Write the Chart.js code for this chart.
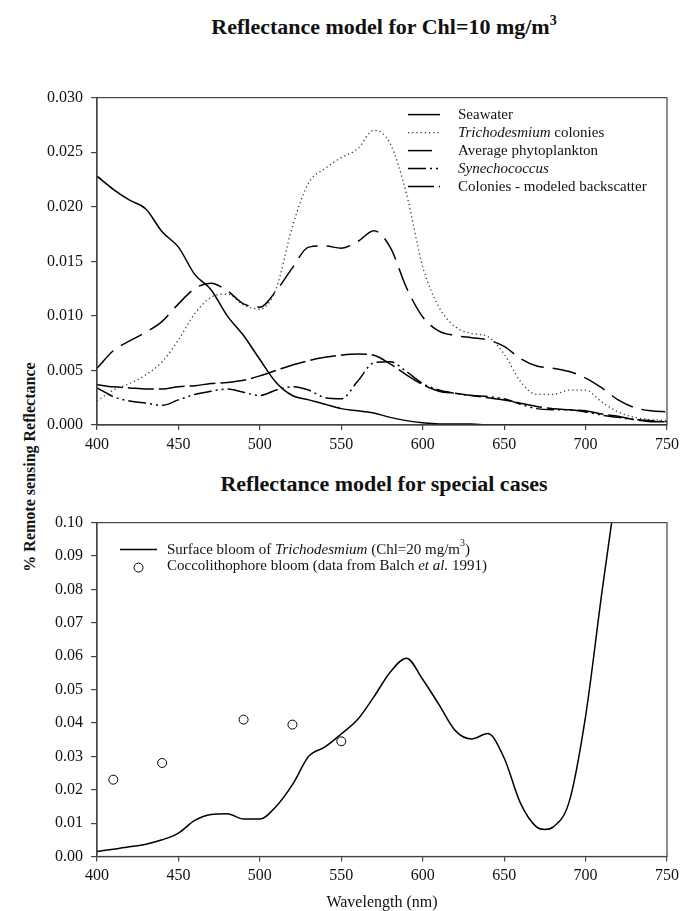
<!DOCTYPE html>
<html>
<head>
<meta charset="utf-8">
<script src="https://cdn.jsdelivr.net/npm/chart.js@4/dist/chart.umd.min.js"></script>
<style>
  html, body { margin: 0; padding: 0; background: #fff; overflow: hidden; }
  body { width: 684px; height: 911px; position: relative; font-family: "Liberation Serif", "DejaVu Serif", serif; color: #111; }
  canvas { position: absolute; left: 0; }
  .title { position: absolute; left: 84px; width: 600px; text-align: center; font-weight: bold; font-size: 22px; line-height: 22px; white-space: nowrap; }
  .title sup { font-size: 14px; vertical-align: 9px; line-height: 0; }
  #ytitle { position: absolute; left: 30px; top: 467px; transform: translate(-50%, -50%) rotate(-90deg); font-weight: bold; font-size: 16px; white-space: nowrap; }
</style>
</head>
<body>
<div class="title" style="top:16px">Reflectance model for Chl=10 mg/m<sup>3</sup></div>
<div class="title" style="top:473px">Reflectance model for special cases</div>
<div id="ytitle">% Remote sensing Reflectance</div>
<canvas id="top" width="684" height="380" style="top:80px"></canvas>
<canvas id="bottom" width="684" height="406" style="top:505px"></canvas>
<script>
// top chart: reflectance for Chl = 10 mg/m3, every 10 nm
const wavelengths = [400, 410, 420, 430, 440, 450, 460, 470, 480, 490, 500, 510, 520, 530, 540, 550, 560, 570,
  580, 590, 600, 610, 620, 630, 640, 650, 660, 670, 680, 690, 700, 710, 720, 730, 740, 750];

const seawater = [0.0228, 0.0216, 0.0206, 0.0198, 0.0177, 0.0163, 0.0138, 0.0124, 0.0100, 0.0082, 0.0060, 0.0039,
  0.0027, 0.0023, 0.0019, 0.0015, 0.0013, 0.0011, 0.0007, 0.0004, 0.0002, 0.0001, 0.0001, 0.0001, 0.0000, 0.0000,
  0.0000, 0.0000, 0.0000, 0.0000, 0.0000, 0.0000, 0.0000, 0.0000, 0.0000, 0.0000];
const trichoColonies = [0.0022, 0.0032, 0.0038, 0.0046, 0.0058, 0.0078, 0.0102, 0.0117, 0.0120, 0.0110, 0.0106, 0.0125,
  0.0182, 0.0222, 0.0235, 0.0245, 0.0253, 0.0270, 0.0258, 0.0212, 0.0145, 0.0108, 0.0090, 0.0084, 0.0081, 0.0065,
  0.0040, 0.0028, 0.0028, 0.0032, 0.0032, 0.0021, 0.0012, 0.0007, 0.0005, 0.0004];
const avgPhyto = [0.0052, 0.0068, 0.0077, 0.0085, 0.0095, 0.0111, 0.0125, 0.0130, 0.0123, 0.0111, 0.0108, 0.0123,
  0.0144, 0.0163, 0.0164, 0.0162, 0.0168, 0.0178, 0.0163, 0.0126, 0.0099, 0.0086, 0.0082, 0.0080, 0.0078, 0.0072,
  0.0061, 0.0054, 0.0052, 0.0049, 0.0043, 0.0034, 0.0023, 0.0016, 0.0013, 0.0012];
const synechococcus = [0.0034, 0.0026, 0.0022, 0.0020, 0.0018, 0.0023, 0.0028, 0.0031, 0.0033, 0.0030, 0.0027, 0.0032,
  0.0035, 0.0032, 0.0025, 0.0024, 0.0040, 0.0057, 0.0058, 0.0049, 0.0038, 0.0032, 0.0029, 0.0027, 0.0026, 0.0024,
  0.0019, 0.0015, 0.0014, 0.0014, 0.0012, 0.0009, 0.0007, 0.0005, 0.0004, 0.0003];
const coloniesBackscatter = [0.0037, 0.0035, 0.0034, 0.0033, 0.0033, 0.0035, 0.0036, 0.0038, 0.0039, 0.0041, 0.0045,
  0.0050, 0.0055, 0.0059, 0.0062, 0.0064, 0.0065, 0.0064, 0.0056, 0.0046, 0.0037, 0.0031, 0.0029, 0.0027, 0.0025,
  0.0023, 0.0020, 0.0017, 0.0015, 0.0014, 0.0013, 0.0010, 0.0008, 0.0005, 0.0003, 0.0003];

// bottom chart: special cases
const bloomWavelengths = [400, 410, 420, 430, 440, 450, 460, 470, 480, 490, 500, 510, 520, 530, 540, 550, 560, 570,
  580, 590, 600, 610, 620, 630, 640, 650, 660, 670, 675, 680, 690, 700, 710, 716];
const surfaceBloom = [0.0015, 0.0022, 0.0029, 0.0037, 0.0050, 0.0070, 0.0108, 0.0126, 0.0128, 0.0112, 0.0112, 0.0150,
  0.0215, 0.0300, 0.0328, 0.0367, 0.0410, 0.0478, 0.0552, 0.0594, 0.0530, 0.0455, 0.0377, 0.0352, 0.0368, 0.0295,
  0.0160, 0.0088, 0.0081, 0.0088, 0.0165, 0.0420, 0.0790, 0.1000];
const coccoWavelengths = [410, 440, 490, 520, 550];
const coccoBloom = [0.0230, 0.0280, 0.0410, 0.0395, 0.0345];

const xTicks = [400, 450, 500, 550, 600, 650, 700, 750];

const FONT = "'Liberation Serif', 'DejaVu Serif', serif";
const INK = "#111";
const FRAME = "#444";

function pts(xs, ys) {
  return xs.map((x, i) => ({ x: x, y: ys[i] }));
}

// frame round the plot area (top and right sides too)
const framePlugin = {
  id: "frame",
  afterDatasetsDraw(chart) {
    const a = chart.chartArea;
    const ctx = chart.ctx;
    ctx.save();
    ctx.strokeStyle = FRAME;
    ctx.lineWidth = 1.2;
    ctx.strokeRect(a.left, a.top, a.right - a.left, a.bottom - a.top);
    ctx.restore();
  },
};

// legend with mixed italic / superscript text
const richLegend = {
  id: "richLegend",
  afterDraw(chart, args, opts) {
    if (!opts.items) return;
    const ctx = chart.ctx;
    const a = chart.chartArea;
    ctx.save();
    opts.items.forEach((item, i) => {
      const ds = chart.data.datasets[item.dataset];
      const y = a.top + opts.y + i * opts.rowH;
      const sx = a.left + opts.x;
      if (ds.showLine === false) {
        ctx.setLineDash([]);
        ctx.beginPath();
        ctx.arc(sx + opts.sampleW / 2, y + 2, ds.pointRadius, 0, Math.PI * 2);
        ctx.fillStyle = "#fff";
        ctx.fill();
        ctx.strokeStyle = ds.pointBorderColor;
        ctx.lineWidth = ds.pointBorderWidth;
        ctx.stroke();
      } else {
        ctx.setLineDash(ds.borderDash || []);
        ctx.strokeStyle = ds.borderColor;
        ctx.lineWidth = ds.borderWidth;
        ctx.beginPath();
        ctx.moveTo(sx, y);
        ctx.lineTo(sx + opts.sampleW, y);
        ctx.stroke();
      }
      ctx.setLineDash([]);
      ctx.fillStyle = INK;
      ctx.textBaseline = "middle";
      let tx = sx + opts.sampleW + opts.gap;
      item.parts.forEach((p) => {
        const size = p.sup ? Math.round(opts.size * 0.65) : opts.size;
        ctx.font = (p.italic ? "italic " : "") + size + "px " + FONT;
        ctx.fillText(p.text, tx, p.sup ? y - 6 : y);
        tx += ctx.measureText(p.text).width;
      });
    });
    ctx.restore();
  },
};

function xScale(height, withTitle) {
  return {
    type: "linear",
    min: 400,
    max: 750,
    afterFit: (s) => { s.height = height; },
    afterBuildTicks: (s) => { s.ticks = xTicks.map((v) => ({ value: v })); },
    border: { display: true, color: FRAME, width: 1.2 },
    grid: { drawOnChartArea: false, drawTicks: true, tickLength: 5, color: FRAME, lineWidth: 1.2 },
    ticks: { color: INK, padding: 5, font: { family: FONT, size: 16 }, maxRotation: 0 },
    title: withTitle
      ? { display: true, text: "Wavelength (nm)", color: INK, font: { family: FONT, size: 16, lineHeight: 1 }, padding: { top: 0, bottom: 0 } }
      : { display: false },
  };
}

function yScale(max, step, digits) {
  return {
    min: 0,
    max: max,
    afterFit: (s) => { s.width = 97; },
    border: { display: true, color: FRAME, width: 1.2 },
    grid: { drawOnChartArea: false, drawTicks: true, tickLength: 6, color: FRAME, lineWidth: 1.2 },
    ticks: {
      stepSize: step,
      color: INK,
      padding: 8,
      font: { family: FONT, size: 16 },
      callback: (v) => Number(v).toFixed(digits),
    },
  };
}

function lineSet(label, xs, ys, dash, width, color) {
  return {
    label: label,
    data: pts(xs, ys),
    borderColor: color || "#000",
    borderWidth: width,
    borderDash: dash,
    pointRadius: 0,
    fill: false,
    cubicInterpolationMode: "monotone",
  };
}

const baseOptions = {
  responsive: false,
  animation: false,
  devicePixelRatio: 1,
  parsing: true,
};

new Chart(document.getElementById("top"), {
  type: "line",
  data: {
    datasets: [
      lineSet("Seawater", wavelengths, seawater, [], 1.5),
      lineSet("Trichodesmium colonies", wavelengths, trichoColonies, [1.2, 3], 1.3, "#333"),
      lineSet("Average phytoplankton", wavelengths, avgPhyto, [24, 9], 1.5),
      lineSet("Synechococcus", wavelengths, synechococcus, [18, 4, 2, 4, 2, 4], 1.5),
      lineSet("Colonies - modeled backscatter", wavelengths, coloniesBackscatter, [26, 5], 1.5),
    ],
  },
  options: {
    ...baseOptions,
    layout: { padding: { left: 0, right: 13, top: 10, bottom: 0 } },
    scales: { x: xScale(35, false), y: yScale(0.03, 0.005, 3) },
    plugins: {
      legend: { display: false },
      tooltip: { enabled: false },
      richLegend: {
        x: 311, y: 17, rowH: 18, sampleW: 32, gap: 18, size: 15,
        items: [
          { dataset: 0, parts: [{ text: "Seawater" }] },
          { dataset: 1, parts: [{ text: "Trichodesmium", italic: true }, { text: " colonies" }] },
          { dataset: 2, parts: [{ text: "Average phytoplankton" }] },
          { dataset: 3, parts: [{ text: "Synechococcus", italic: true }] },
          { dataset: 4, parts: [{ text: "Colonies - modeled backscatter" }] },
        ],
      },
    },
  },
  plugins: [framePlugin, richLegend],
});

new Chart(document.getElementById("bottom"), {
  type: "line",
  data: {
    datasets: [
      lineSet("Surface bloom of Trichodesmium (Chl=20 mg/m3)", bloomWavelengths, surfaceBloom, [], 1.5),
      {
        label: "Coccolithophore bloom (data from Balch et al. 1991)",
        data: pts(coccoWavelengths, coccoBloom),
        showLine: false,
        pointRadius: 4.5,
        pointStyle: "circle",
        pointBackgroundColor: "#fff",
        pointBorderColor: "#000",
        pointBorderWidth: 1,
      },
    ],
  },
  options: {
    ...baseOptions,
    layout: { padding: { left: 0, right: 13, top: 16.5, bottom: 0 } },
    scales: { x: xScale(54.5, true), y: yScale(0.1, 0.01, 2) },
    plugins: {
      legend: { display: false },
      tooltip: { enabled: false },
      richLegend: {
        x: 23, y: 27, rowH: 16, sampleW: 37, gap: 10, size: 15,
        items: [
          { dataset: 0, parts: [{ text: "Surface bloom of " }, { text: "Trichodesmium", italic: true }, { text: " (Chl=20 mg/m" }, { text: "3", sup: true }, { text: ")" }] },
          { dataset: 1, parts: [{ text: "Coccolithophore bloom (data from Balch " }, { text: "et al.", italic: true }, { text: " 1991)" }] },
        ],
      },
    },
  },
  plugins: [framePlugin, richLegend],
});
</script>
</body>
</html>
